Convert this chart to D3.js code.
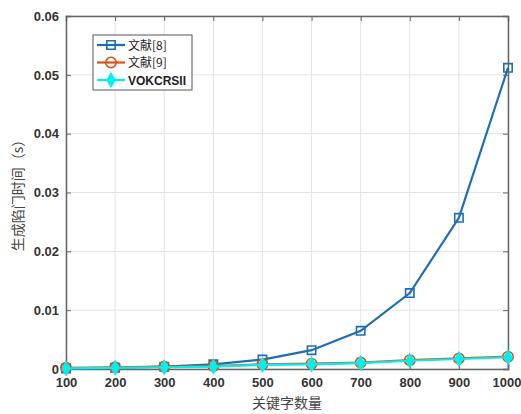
<!DOCTYPE html>
<html>
<head>
<meta charset="utf-8">
<script src="https://cdn.jsdelivr.net/npm/d3@7"></script>
<style>
  body { margin: 0; background: #fff; }
  svg { display: block; }
  .tick text { font-family: Arial, "Liberation Sans", sans-serif; font-weight: bold; font-size: 13px; fill: #333; }
</style>
</head>
<body>
<div id="chart"></div>
<script>
const keywords = [100, 200, 300, 400, 500, 600, 700, 800, 900, 1000]
const ref8 = [0.0001, 0.0002, 0.0004, 0.0008, 0.0016, 0.0032, 0.0065, 0.0129, 0.0257, 0.0512]
const ref9 = [0.0002, 0.0003, 0.0004, 0.0005, 0.0008, 0.0009, 0.0011, 0.0015, 0.0018, 0.0021]
const vokcrs = [0.0001, 0.0002, 0.0003, 0.0004, 0.0007, 0.0008, 0.0010, 0.0014, 0.0017, 0.0020]
const yTicks = [0, 0.01, 0.02, 0.03, 0.04, 0.05, 0.06]
const seriesNames = ['文献[8]', '文献[9]', 'VOKCRSII']

const width = 521, height = 414
const margin = {top: 16, right: 13, bottom: 45, left: 66}
const w = width - margin.left - margin.right
const h = height - margin.top - margin.bottom

const x = d3.scaleLinear().domain([100, 1000]).range([0, w])
const y = d3.scaleLinear().domain([0, 0.06]).range([h, 0])

const svg = d3.select('#chart').append('svg').attr('width', width).attr('height', height)
const frame = svg.append('g').attr('transform', `translate(${margin.left},${margin.top})`)

// grid
frame.append('g').selectAll('line').data(keywords).join('line')
  .attr('x1', d => x(d)).attr('x2', d => x(d)).attr('y1', 0).attr('y2', h)
  .attr('stroke', '#e3e3e3').attr('stroke-width', 1)
frame.append('g').selectAll('line').data(yTicks).join('line')
  .attr('x1', 0).attr('x2', w).attr('y1', d => y(d)).attr('y2', d => y(d))
  .attr('stroke', '#e3e3e3').attr('stroke-width', 1)

// axes (inward ticks, box style)
const xAxis = d3.axisBottom(x).tickValues(keywords).tickSize(-5).tickPadding(9).tickFormat(d3.format('d'))
const yAxis = d3.axisLeft(y).tickValues(yTicks).tickSize(-5).tickPadding(7).tickFormat(d => d === 0 ? '0' : d3.format('.2f')(d))
const gx = frame.append('g').attr('transform', `translate(0,${h})`).call(xAxis)
gx.selectAll('.tick text').filter(d => d === 1000).attr('dx', -1.5).attr('font-size', 12.5)
const gy = frame.append('g').call(yAxis)
frame.append('g').call(d3.axisTop(x).tickValues(keywords).tickSize(-5).tickFormat(''))
frame.append('g').attr('transform', `translate(${w},0)`).call(d3.axisRight(y).tickValues(yTicks).tickSize(-5).tickFormat(''))
frame.selectAll('.domain').attr('stroke', '#666').attr('stroke-width', 1.5)
frame.selectAll('.tick line').attr('stroke', '#666')

// series
const series = [
  {name: seriesNames[0], values: ref8, color: '#1f6db5', symbol: d3.symbolSquare, size: 70, fill: 'none'},
  {name: seriesNames[1], values: ref9, color: '#d95319', symbol: d3.symbolCircle, size: 85, fill: 'none'},
  {name: seriesNames[2], values: vokcrs, color: '#00f0f0', symbol: d3.symbolDiamond, size: 50, fill: '#00f0f0'}
]
const line = d3.line().x((d, i) => x(keywords[i])).y(d => y(d))

series.forEach(s => {
  const g = frame.append('g')
  g.append('path').datum(s.values).attr('d', line)
    .attr('fill', 'none').attr('stroke', s.color).attr('stroke-width', 2.2)
  g.selectAll('path.m').data(s.values).join('path').attr('class', 'm')
    .attr('transform', (d, i) => `translate(${x(keywords[i])},${y(d)})`)
    .attr('d', d3.symbol().type(s.symbol).size(s.size))
    .attr('fill', s.fill).attr('stroke', s.color).attr('stroke-width', 1.6)
})

// legend
const lg = svg.append('g').attr('transform', 'translate(93,35)')
lg.append('rect').attr('width', 99).attr('height', 55).attr('fill', '#fff').attr('stroke', '#555').attr('stroke-width', 1)
series.forEach((s, i) => {
  const yy = 10 + i * 17.5
  lg.append('line').attr('x1', 4).attr('x2', 32).attr('y1', yy).attr('y2', yy)
    .attr('stroke', s.color).attr('stroke-width', 2.2)
  lg.append('path').attr('transform', `translate(18,${yy})`)
    .attr('d', d3.symbol().type(s.symbol).size(s.size))
    .attr('fill', s.fill).attr('stroke', s.color).attr('stroke-width', 1.6)
  lg.append('text').attr('x', 35).attr('y', yy + 4.5).text(s.name)
    .attr('font-family', i === 2 ? 'Arial, "Liberation Sans", sans-serif' : '"Noto Sans CJK SC", sans-serif')
    .attr('font-weight', i === 2 ? 'bold' : 'normal')
    .attr('font-size', 12).attr('fill', '#222')
})

// axis labels
svg.append('text').attr('x', margin.left + w / 2).attr('y', 408).attr('text-anchor', 'middle')
  .attr('font-family', '"Noto Sans CJK SC", sans-serif').attr('font-size', 14).attr('fill', '#444')
  .text('关键字数量')
svg.append('text').attr('transform', `translate(23,192) rotate(-90)`).attr('text-anchor', 'middle')
  .attr('font-family', '"Noto Sans CJK SC", sans-serif').attr('font-size', 14).attr('fill', '#444')
  .text('生成陷门时间（s）')
</script>
</body>
</html>
